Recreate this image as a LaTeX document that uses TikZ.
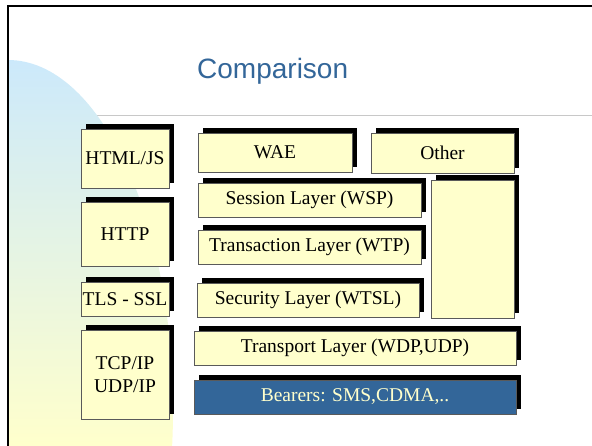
\documentclass[tikz,border=0pt]{standalone}
\usepackage{fontspec}
\setmainfont{Liberation Serif}
\newfontfamily\titlefont{Liberation Sans}
\usetikzlibrary{shadows}
\definecolor{titleblue}{RGB}{51,102,153}
\definecolor{boxyellow}{RGB}{255,255,204}
\definecolor{blobblue}{RGB}{204,233,251}
\definecolor{blobyellow}{RGB}{255,255,204}
\definecolor{boxedge}{RGB}{90,90,90}
\definecolor{ruleGray}{RGB}{200,200,200}
\tikzset{
  layerbox/.style={rectangle, draw=boxedge, line width=0.8pt, fill=boxyellow,
    inner sep=0pt, align=center, text=black,
    font=\fontsize{19.5}{23}\selectfont,
    general shadow={fill=black, shadow xshift=5pt, shadow yshift=5pt}},
  bearerbox/.style={layerbox, fill=titleblue, text=boxyellow},
}
\begin{document}
\begin{tikzpicture}[x=1pt,y=-1pt]
\useasboundingbox (0,0) rectangle (592,445);
% separator rule
\draw[ruleGray, line width=1pt] (8,115) -- (592,115);
% background blob
\begin{scope}
  \clip (8,0) rectangle (592,445);
  \clip (8,410) ellipse [x radius=165pt, y radius=350pt];
  \shade[top color=blobblue, bottom color=blobyellow] (8,60) rectangle (200,445);
\end{scope}
% frame
\draw[line width=2.3pt] (8,446) -- (8,6) -- (593,6);
% title
\node[anchor=base west, inner sep=0pt, text=titleblue,
  font=\titlefont\fontsize{28}{30}\selectfont] (title) at (197,78) {Comparison};
% left stack
\node[layerbox, minimum width=88pt, minimum height=59pt] (html) at (125,158.5) {HTML/JS};
\node[layerbox, minimum width=88pt, minimum height=64pt] (http) at (125,234) {HTTP};
\node[layerbox, minimum width=88pt, minimum height=34pt] (tls) at (125,299) {TLS - SSL};
\node[layerbox, minimum width=88pt, minimum height=89pt] (tcp) at (125,374.5) {TCP/IP\\UDP/IP};
% right stack
\node[layerbox, minimum width=154pt, minimum height=39pt] (wae) at (275,152.5) {WAE};
\node[layerbox, minimum width=143pt, minimum height=40pt] (other) at (442.5,153) {Other};
\node[layerbox, minimum width=223pt, minimum height=34pt] (wsp) at (309.5,200) {Session Layer (WSP)};
\node[layerbox, minimum width=83pt, minimum height=138pt] (tall) at (472.5,249) {};
\node[layerbox, minimum width=223pt, minimum height=34pt] (wtp) at (309.5,247) {Transaction Layer (WTP)};
\node[layerbox, minimum width=222pt, minimum height=34pt] (wtsl) at (308,300) {Security Layer (WTSL)};
\node[layerbox, minimum width=322pt, minimum height=34pt] (wdp) at (355,348) {Transport Layer (WDP,UDP)};
\node[bearerbox, minimum width=322pt, minimum height=34pt] (bearers) at (355,397) {Bearers: SMS,CDMA,..};
\end{tikzpicture}
\end{document}
